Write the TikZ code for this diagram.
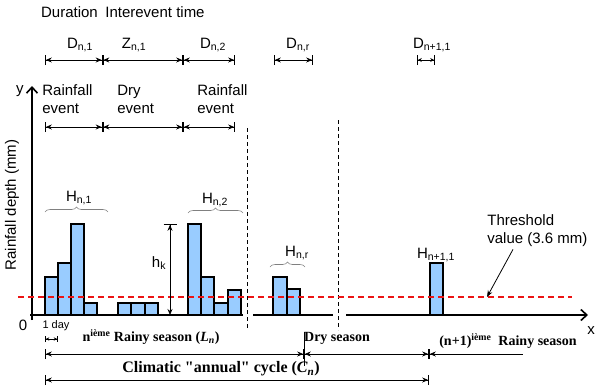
\documentclass[tikz,border=0pt]{standalone}
\usepackage{fontspec}
\setmainfont{Liberation Sans}
\newfontfamily\seasonfont{Liberation Serif}
\usetikzlibrary{arrows.meta,decorations.pathreplacing}
\definecolor{barblue}{RGB}{153,204,255}
\definecolor{thresred}{RGB}{235,20,20}
\tikzset{
  lab/.style={font=\fontsize{15}{18}\selectfont,inner sep=0pt},
  seas/.style={font=\seasonfont\bfseries\fontsize{14}{16}\selectfont,inner sep=0pt},
  dimarr/.style={line width=0.8pt,
    {Bar[width=10pt]Stealth[length=6pt,width=5pt]}-{Stealth[length=6pt,width=5pt]Bar[width=10pt]}},
  rainbar/.style={draw,line width=1.1pt,fill=barblue},
  hbrace/.style={draw=gray,line width=0.6pt,decorate,decoration={brace,amplitude=5pt}},
  seasonsep/.style={line width=0.7pt,dash pattern=on 4pt off 3pt},
  thresline/.style={draw=thresred,line width=1.2pt,dash pattern=on 6pt off 4pt},
  axis/.style={line width=1.6pt}
}

\begin{document}
\begin{tikzpicture}[x=1pt,y=-1pt,line width=0.8pt,>=Stealth]
\useasboundingbox (0,0) rectangle (600,391);
% 标题
\node[lab] (dur) at (69.5,12) {Duration};
\node[lab] (iet) at (155,12) {Interevent time};
% 事件时长
\coordinate (a0) at (45,60);
\coordinate (a1) at (102.5,60);
\coordinate (a2) at (183,60);
\coordinate (a3) at (235,60);
\coordinate (r0) at (274,60);
\coordinate (r1) at (313,60);
\coordinate (q0) at (417,60);
\coordinate (q1) at (435,60);
\draw[dimarr] (a0) -- (a1);
\draw[dimarr] (a1) -- (a2);
\draw[dimarr] (a2) -- (a3);
\draw[dimarr] (r0) -- (r1);
\draw[line width=0.8pt,{Bar[width=10pt]Stealth[length=4pt,width=4pt]}-{Stealth[length=4pt,width=4pt]Bar[width=10pt]}] (q0) -- (q1);
\node[lab] (dn1) at (80,45) {D\textsubscript{n,1}};
\node[lab] (zn1) at (134,45) {Z\textsubscript{n,1}};
\node[lab] (dn2) at (213,45) {D\textsubscript{n,2}};
\node[lab] (dnr) at (298,45) {D\textsubscript{n,r}};
\node[lab] (dnn) at (432,45) {D\textsubscript{n+1,1}};
% 事件类型
\node[lab,anchor=west,align=left] (ev1) at (42,99) {Rainfall\\event};
\node[lab,anchor=west,align=left] (dry) at (117,99) {Dry\\event};
\node[lab,anchor=west,align=left] (ev2) at (197,99) {Rainfall\\event};
\coordinate (b0) at (45,127);
\coordinate (b1) at (102.5,127);
\coordinate (b2) at (183,127);
\coordinate (b3) at (235,127);
\draw[dimarr] (b0) -- (b1);
\draw[dimarr] (b1) -- (b2);
\draw[dimarr] (b2) -- (b3);
% 季节分界（虚线）
\draw[seasonsep] (247,128) -- (247,330);
\draw[seasonsep] (338,120) -- (338,330);
% 日降雨柱
\draw[rainbar] (45,315) rectangle (58,277);
\draw[rainbar] (58,315) rectangle (71,263);
\draw[rainbar] (71,315) rectangle (84,224);
\draw[rainbar] (84,315) rectangle (97,303);
\draw[rainbar] (118,315) rectangle (131,303);
\draw[rainbar] (131,315) rectangle (145,303);
\draw[rainbar] (145,315) rectangle (158,303);
\draw[rainbar] (188,315) rectangle (201,224);
\draw[rainbar] (201,315) rectangle (214,277);
\draw[rainbar] (214,315) rectangle (228,303);
\draw[rainbar] (228,315) rectangle (241,290);
\draw[rainbar] (273,315) rectangle (287,277);
\draw[rainbar] (287,315) rectangle (300,289);
\draw[rainbar] (430,315) rectangle (443,263);
% 坐标轴
\coordinate (o) at (32,320);
\coordinate (ytop) at (32,86);
\coordinate (xend) at (588,315);
\draw[axis,-{Straight Barb[length=6pt,width=11pt]}] (o) -- (ytop);
\draw[axis] (30,315) -- (243,315);
\draw[axis] (253,315) -- (333,315);
\draw[axis,-{Straight Barb[length=6pt,width=11pt]}] (346,315) -- (xend);
\node[lab] (ylab) at (20,91) {y};
\node[lab] (xlab) at (591,331) {x};
\node[lab] (zero) at (23,325) {0};
\node[lab,rotate=90] (ytitle) at (12,205) {Rainfall depth (mm)};
% 阈值
\coordinate (thrpt) at (487,297);
\draw[thresline] (18,297) -- (572,297);
\node[lab,anchor=west,align=left] (thr) at (487,231) {Threshold\\value (3.6 mm)};
\draw[->,line width=0.8pt] ([xshift=26pt,yshift=-2pt]thr.south west) -- (thrpt);
% 事件总雨量
\draw[hbrace] (45,212) -- (108,212);
\draw[hbrace] (188,213) -- (243,213);
\draw[hbrace] (270,267) -- (305,267);
\node[lab] (hn1) at (79,198) {H\textsubscript{n,1}};
\node[lab] (hn2) at (215,200) {H\textsubscript{n,2}};
\node[lab] (hnr) at (297,253) {H\textsubscript{n,r}};
\node[lab] (hnn) at (436,255) {H\textsubscript{n+1,1}};
% 日雨量 h_k
\coordinate (hktop) at (170,224);
\coordinate (hkbot) at (170,315);
\draw[line width=0.8pt,{Bar[width=13pt]Stealth[length=6pt,width=5pt]}-{Stealth[length=6pt,width=5pt]}] (hktop) -- (hkbot);
\node[lab] (hk) at (159,263) {h\textsubscript{k}};
% 一天
\node[font=\fontsize{11}{13}\selectfont,inner sep=0pt] (day) at (56,326) {1 day};
\draw[line width=0.8pt,{Bar[width=6pt]Stealth[length=3.5pt,width=3.5pt]}-{Stealth[length=3.5pt,width=3.5pt]Bar[width=6pt]}] (45,339) -- (58,339);
% 季节
\node[seas] (rain) at (151,337) {n\textsuperscript{ième} Rainy season (\textit{L\textsubscript{n}})};
\node[seas] (drys) at (337,338) {Dry season};
\node[seas] (rainn) at (508,341) {(n+1)\textsuperscript{ième}\ \ Rainy season};
\coordinate (s0) at (45,354);
\coordinate (s1) at (304,354);
\coordinate (s2) at (429,354);
\coordinate (s3) at (523,354);
\draw[dimarr] (s0) -- (s1);
\draw[dimarr] (s1) -- (s2);
\draw[line width=0.8pt,{Bar[width=10pt]Stealth[length=6pt,width=5pt]}-] (s2) -- (s3);
\draw[line width=0.8pt] (304,332) -- (304,366);
% 气候年
\node[seas,font=\seasonfont\bfseries\fontsize{16}{18}\selectfont] (cycle) at (221,369) {Climatic "annual" cycle (\textit{C\textsubscript{n}})};
\coordinate (c0) at (45,380);
\coordinate (c1) at (429,380);
\draw[dimarr] (c0) -- (c1);
\end{tikzpicture}
\end{document}
